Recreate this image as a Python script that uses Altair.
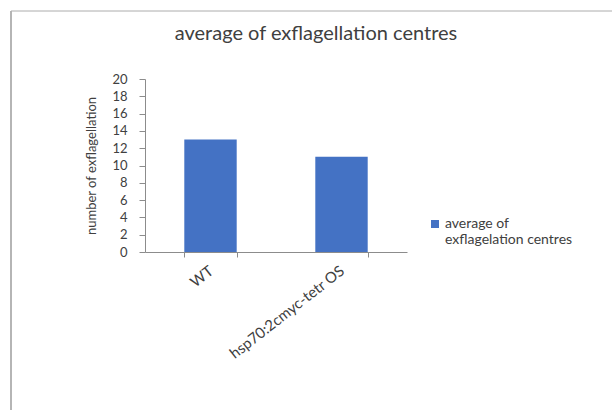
import altair as alt
import pandas as pd

categories = ["WT", "hsp70:2cmyc-tetr OS"]
values = [13, 11]
series_name = "average of exflagelation centres"
y_ticks = [0, 2, 4, 6, 8, 10, 12, 14, 16, 18, 20]

df = pd.DataFrame({"group": categories, "value": values, "series": [series_name] * len(categories)})

FONT = "Lato"
TXT = "#404040"
AX = "#8c8c8c"

bars = alt.Chart(df).mark_bar(color="#4472C4").encode(
    x=alt.X("group:N", sort=categories, title=None,
            scale=alt.Scale(paddingInner=0.6, paddingOuter=0.3),
            axis=alt.Axis(labelAngle=-38, labelAlign="right", labelBaseline="top",
                          labelFont=FONT, labelFontSize=15, labelColor=TXT,
                          domainColor=AX, tickColor=AX, tickBand="extent", tickSize=5,
                          labelPadding=6, labelOffset=-4)),
    y=alt.Y("value:Q", title="number of exflagellation",
            scale=alt.Scale(domain=[0, 20], nice=False),
            axis=alt.Axis(values=y_ticks, grid=False, labelFont=FONT, labelFontSize=13,
                          labelColor=TXT, domainColor=AX, tickColor=AX, tickSize=6,
                          labelPadding=12, titleFont=FONT, titleFontSize=13,
                          titleFontWeight="normal", titleColor=TXT, titlePadding=13)),
    color=alt.Color("series:N", scale=alt.Scale(range=["#4472C4"]),
                    legend=alt.Legend(title=None, orient="none", legendX=283, legendY=138,
                                      symbolType="square", symbolSize=64, labelFont=FONT,
                                      labelFontSize=14, labelColor=TXT,
                                      labelExpr="['average of', 'exflagelation centres']",
                                      labelLimit=250, symbolStrokeWidth=0, labelOffset=3)),
)

border_top = alt.Chart(df).mark_rule(color="#c8c8c8", strokeWidth=1).encode(
    x=alt.value(-134), x2=alt.value(467), y=alt.value(-68))
border_left = alt.Chart(df).mark_rule(color="#b0b0b0", strokeWidth=1.5).encode(
    x=alt.value(-134), y=alt.value(-68), y2=alt.value(331))

chart = alt.layer(border_top, border_left, bars).properties(
    width=262, height=173,
    title=alt.TitleParams("average of exflagellation centres", font=FONT, fontSize=20,
                          fontWeight="normal", color=TXT, anchor="middle", frame="group",
                          dx=40, offset=0, dy=54, baseline="bottom"),
    padding={"left": 145, "top": 79, "right": 205, "bottom": 158},
    autosize=alt.AutoSizeParams(type="none"),
).configure(background="white").configure_view(strokeWidth=0)

chart.save("out.html", embed_options={"renderer": "svg", "actions": False})
